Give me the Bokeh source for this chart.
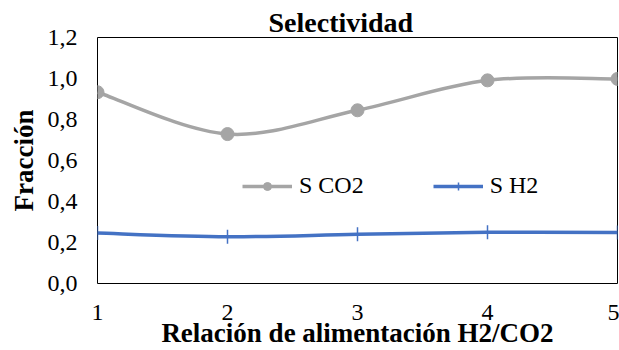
from bokeh.plotting import figure
from bokeh.models import (ColumnDataSource, Range1d, FixedTicker, CustomJSTickFormatter,
                          Legend, LegendItem)
from bokeh.embed import file_html
from bokeh.resources import INLINE

x_vals = [1, 2, 3, 4, 5]
s_co2 = [0.933, 0.729, 0.845, 0.991, 0.998]
s_h2 = [0.246, 0.228, 0.240, 0.250, 0.249]
y_ticks = [0.0, 0.2, 0.4, 0.6, 0.8, 1.0, 1.2]
title_text = "Selectividad"
x_label = "Relación de alimentación H2/CO2"
y_label = "Fracción"
names = ["S CO2", "S H2"]

GRAY = "#A5A5A5"
BLUE = "#4472C4"
FONT = "Liberation Serif, Tinos, DejaVu Serif"


def bezier_source(xs, ys):
    n = len(xs)
    d = dict(x0=[], y0=[], x1=[], y1=[], cx0=[], cy0=[], cx1=[], cy1=[])
    for i in range(n - 1):
        im1 = max(i - 1, 0)
        ip2 = min(i + 2, n - 1)
        d["x0"].append(xs[i]); d["y0"].append(ys[i])
        d["x1"].append(xs[i + 1]); d["y1"].append(ys[i + 1])
        d["cx0"].append(xs[i] + (xs[i + 1] - xs[im1]) / 6)
        d["cy0"].append(ys[i] + (ys[i + 1] - ys[im1]) / 6)
        d["cx1"].append(xs[i + 1] - (xs[ip2] - xs[i]) / 6)
        d["cy1"].append(ys[i + 1] - (ys[ip2] - ys[i]) / 6)
    return ColumnDataSource(d)


p = figure(width=619, height=350, output_backend="svg", toolbar_location=None,
           x_range=Range1d(1, 5), y_range=Range1d(0, 1.2),
           min_border_left=97, min_border_right=2, min_border_top=37, min_border_bottom=66)

p.title.text = title_text
p.title.align = "left"
p.title.offset = 171
p.title.text_font = FONT
p.title.text_font_size = "28px"
p.title.text_font_style = "bold"
p.title.text_color = "black"
p.title.standoff = 0

p.outline_line_color = "black"
p.outline_line_width = 1
p.xgrid.visible = False
p.ygrid.visible = False
p.background_fill_color = "white"
p.border_fill_color = "white"

for ax in (p.xaxis[0], p.yaxis[0]):
    ax.axis_line_color = None
    ax.major_tick_line_color = None
    ax.minor_tick_line_color = None
    ax.major_label_text_font = FONT
    ax.major_label_text_font_size = "24px"
    ax.major_label_text_color = "black"
    ax.axis_label_text_font = FONT
    ax.axis_label_text_font_size = "27px"
    ax.axis_label_text_font_style = "bold"
    ax.axis_label_text_color = "black"

p.xaxis.ticker = FixedTicker(ticks=x_vals)
p.yaxis.ticker = FixedTicker(ticks=y_ticks)
p.xaxis.formatter = CustomJSTickFormatter(code="return tick.toFixed(0);")
p.yaxis.formatter = CustomJSTickFormatter(code="return tick.toFixed(1).replace('.', ',');")
p.xaxis.axis_label = x_label
p.yaxis.axis_label = y_label
p.xaxis.major_label_standoff = 15
p.yaxis.major_label_standoff = 14
p.xaxis.axis_label_standoff = -5
p.yaxis.axis_label_standoff = 6

src_co2 = ColumnDataSource(dict(x=x_vals, y=s_co2))
src_h2 = ColumnDataSource(dict(x=x_vals, y=s_h2))

p.bezier(x0="x0", y0="y0", x1="x1", y1="y1", cx0="cx0", cy0="cy0", cx1="cx1", cy1="cy1",
         source=bezier_source(x_vals, s_co2), line_color=GRAY, line_width=3.5)
p.bezier(x0="x0", y0="y0", x1="x1", y1="y1", cx0="cx0", cy0="cy0", cx1="cx1", cy1="cy1",
         source=bezier_source(x_vals, s_h2), line_color=BLUE, line_width=3.5)

m_co2 = p.scatter("x", "y", source=src_co2, marker="circle", size=13,
                  fill_color=GRAY, line_color=GRAY)
m_h2 = p.scatter("x", "y", source=src_h2, marker="cross", size=14,
                 line_color=BLUE, line_width=1.5)

nan = float("nan")
leg_co2 = p.line(x=[nan], y=[nan], line_color=GRAY, line_width=3.5)
leg_h2 = p.line(x=[nan], y=[nan], line_color=BLUE, line_width=3.5)

legend = Legend(items=[LegendItem(label=names[0], renderers=[leg_co2, m_co2]),
                       LegendItem(label=names[1], renderers=[leg_h2, m_h2])],
                orientation="horizontal", location=(145, 84),
                glyph_width=50, glyph_height=20, label_standoff=7, spacing=69,
                padding=0, margin=0,
                border_line_color=None, background_fill_alpha=0,
                label_text_font=FONT, label_text_font_size="24px",
                label_text_color="black")
p.add_layout(legend, "center")

open("out.html", "w").write(file_html(p, INLINE))
